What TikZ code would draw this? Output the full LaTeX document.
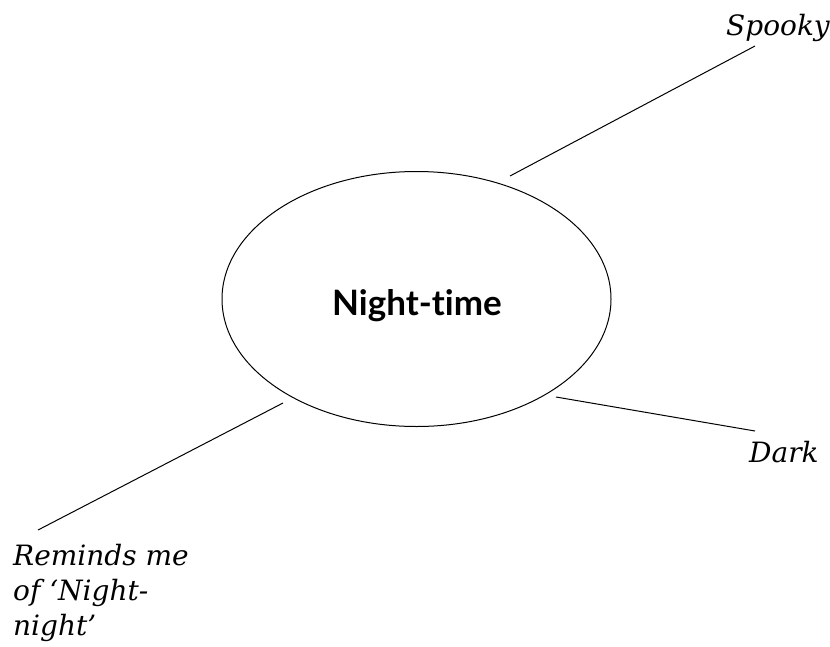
\documentclass[tikz,border=0pt]{standalone}
\usepackage{fontspec}
\usetikzlibrary{shapes.geometric}
\newfontfamily\titlefont[Ligatures=NoCommon]{Lato}
\newfontfamily\handfont{DejaVu Serif}
\tikzset{
  hand/.style={font=\handfont\itshape\fontsize{28}{35}\selectfont, inner sep=0pt, anchor=base west, align=left},
  conn/.style={draw=black, line width=1pt}
}
\begin{document}
\begin{tikzpicture}[x=1pt,y=-1pt]
\useasboundingbox (0,0) rectangle (830,646);
\node[draw, line width=1pt, ellipse, minimum width=389pt, minimum height=255pt, inner sep=0pt] (c) at (416.5,299) {};
\node[anchor=base, inner sep=0pt, font=\titlefont\bfseries\fontsize{35}{40}\selectfont] (ct) at (417,315.5) {Night-time};
\coordinate (s1) at (510,176);
\coordinate (s2) at (755,46);
\coordinate (d1) at (556,397);
\coordinate (d2) at (755,431);
\coordinate (r1) at (283,403);
\coordinate (r2) at (38,530);
\draw[conn] (s1) -- (s2);
\draw[conn] (d1) -- (d2);
\draw[conn] (r1) -- (r2);
\node[hand] (spooky) at (726,35) {Spooky};
\node[hand] (dark) at (749,462) {Dark};
\node[hand] (rem) at (13,635) {Reminds me\\of ‘Night-\\night’};
\end{tikzpicture}
\end{document}
